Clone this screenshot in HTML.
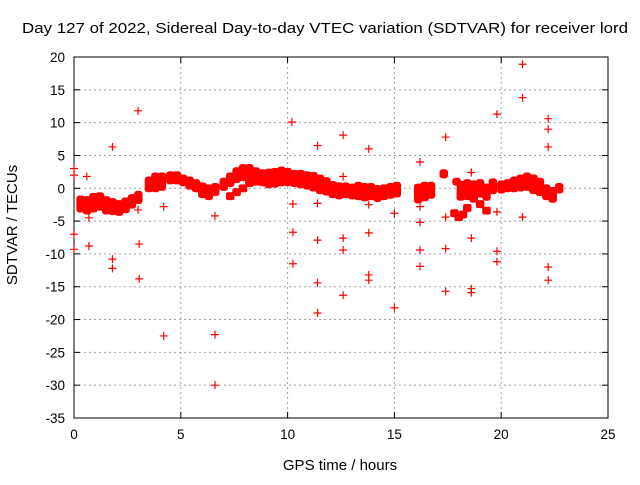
<!DOCTYPE html>
<html><head><meta charset="utf-8"><style>
body{margin:0;background:#fff}
svg text{font-family:"Liberation Sans",sans-serif;fill:#000}
</style></head><body>
<svg id="c" width="640" height="480"></svg>
<script>
const bandT=[0.3,0.6,0.9,1.2,1.5,1.8,2.1,2.4,2.7,3.0,3.5,3.8,4.1,4.5,4.8,5.1,5.4,5.7,6.0,6.3,6.6,7.0,7.3,7.6,7.9,8.2,8.5,8.8,9.1,9.4,9.7,10.0,10.3,10.6,10.9,11.2,11.5,11.8,12.1,12.4,12.7,13.0,13.3,13.6,13.9,14.2,14.5,14.8,15.1,16.1,16.4,16.7,17.3,17.9,18.1,18.4,18.7,19.0,19.3,19.6,20.0,20.3,20.6,20.9,21.2,21.5,21.8,22.1,22.4,22.7];
const bandV=[-2.4,-2.6,-2.2,-2.0,-2.6,-2.8,-3.0,-2.6,-2.0,-1.4,0.6,0.9,1.0,1.6,1.6,1.2,0.8,0.4,-0.3,-0.6,-0.2,0.6,1.3,2.0,2.4,2.2,1.8,1.6,1.5,1.6,1.8,1.7,1.5,1.4,1.2,1.0,0.6,0.3,-0.2,-0.4,-0.3,-0.5,-0.4,-0.6,-0.5,-0.8,-0.6,-0.4,-0.2,-0.8,-0.5,-0.3,2.2,1.0,-0.4,-0.2,-0.5,0.0,-0.6,0.3,0.2,0.4,0.6,0.8,1.0,0.6,0.2,-0.6,-1.0,0.0];
const bandH=[1.3,1.4,1.5,1.4,1.4,1.3,1.2,1.2,1.1,1.0,1.2,1.5,1.4,1.0,1.0,0.9,1.0,1.0,1.2,1.2,1.0,1.0,1.1,1.2,1.3,1.5,1.4,1.3,1.5,1.5,1.5,1.4,1.3,1.4,1.4,1.5,1.5,1.4,1.3,1.3,1.2,1.2,1.4,1.4,1.3,1.3,1.2,1.2,1.2,1.5,1.5,1.3,0.7,0.6,1.5,1.6,1.7,1.4,1.3,1.2,1.0,1.0,1.2,1.3,1.4,1.5,1.4,1.2,1.2,0.8];
const strandT=[7.3,7.6,7.9,8.2,17.8,18.0,18.2,18.4,18.7,19.0,19.3];
const strandV=[-1.2,-0.6,0.0,0.8,-3.8,-4.4,-4.0,-3.0,-1.5,-2.4,-3.4];
const outT=[0,0,0,0,0.6,0.7,0.7,1.8,1.8,1.8,3,3,3.05,3.05,4.2,4.2,6.6,6.6,6.6,10.2,10.25,10.25,10.25,11.4,11.4,11.4,11.4,11.4,12.6,12.6,12.6,12.6,12.6,13.8,13.8,13.8,13.8,13.8,15,15,16.2,16.2,16.2,16.2,16.2,17.4,17.4,17.4,17.4,18.6,18.6,18.6,18.6,19.8,19.8,19.8,21,21,21,22.2,22.2,22.2,22.2,22.2,19.8];
const outV=[3,2,-7,-9.3,1.8,-4.5,-8.8,6.3,-10.8,-12.2,11.8,-3.3,-8.5,-13.8,-2.8,-22.5,-4.2,-22.3,-30,10.1,-2.4,-6.7,-11.5,6.5,-2.3,-7.9,-14.4,-19,8.1,1.8,-7.6,-9.4,-16.3,6,-2.5,-6.8,-13.2,-14,-3.8,-18.2,4,-2.8,-5.2,-9.4,-11.9,7.8,-4.4,-9.2,-15.7,2.4,-7.6,-15.3,-15.9,11.3,-9.6,-11.2,18.9,13.8,-4.4,10.6,9,6.3,-12,-14,-3.6];
const xTicks=[0,5,10,15,20,25];
const yTicks=[20,15,10,5,0,-5,-10,-15,-20,-25,-30,-35];
const X0=74,X1=608,Y0=57,Y1=418;
const sx=t=>X0+(t-0)/25*(X1-X0), sy=v=>Y0+(20-v)/55*(Y1-Y0);
const svg=document.getElementById('c'),NS='http://www.w3.org/2000/svg';
function mk(tag,a,p){const e=document.createElementNS(NS,tag);for(const k in a)e.setAttribute(k,a[k]);(p||svg).appendChild(e);return e;}
let g=mk('g',{});


xTicks.forEach(t=>{const x=sx(t);
 if(t>0&&t<25)mk('line',{x1:x,y1:Y0,x2:x,y2:Y1,stroke:'#a0a0a0','stroke-dasharray':'2,3'},g);
 mk('line',{x1:x,y1:Y1,x2:x,y2:Y1-6,stroke:'#000'});mk('line',{x1:x,y1:Y0,x2:x,y2:Y0+6,stroke:'#000'});
 const tx=mk('text',{x:x,y:Y1+21,'text-anchor':'middle','font-size':13.5});tx.textContent=t;
 
 });
yTicks.forEach(v=>{const y=sy(v);
 if(v<20&&v>-35)mk('line',{x1:X0,y1:y,x2:X1,y2:y,stroke:'#a0a0a0','stroke-dasharray':'2,3'},g);
 mk('line',{x1:X0,y1:y,x2:X0+6,y2:y,stroke:'#000'});mk('line',{x1:X1,y1:y,x2:X1-6,y2:y,stroke:'#000'});
 const tx=mk('text',{x:X0-9,y:y+5,'text-anchor':'end','font-size':13.5});tx.textContent=v;
 
 });
const fr=mk('rect',{x:X0,y:Y0,width:X1-X0,height:Y1-Y0,fill:'none',stroke:'#000'});


const d=mk('g',{fill:'#f00'});


bandT.forEach((t,i)=>{const y1=sy(bandV[i]+bandH[i]),y2=sy(bandV[i]-bandH[i]);
 const r=mk('rect',{x:sx(t)-4,y:y1,width:8.5,height:y2-y1,rx:3},d);
 
 });
strandT.forEach((t,i)=>{const r=mk('rect',{x:sx(t)-4,y:sy(strandV[i]+0.6),width:8.5,height:sy(0)-sy(1.2),rx:2},d);
 
 });
outT.forEach((t,i)=>{const x=sx(t),y=sy(outV[i]);
 const p=mk('path',{d:`M${x-4},${y}H${x+4}M${x},${y-4}V${y+4}`,stroke:'#f00','stroke-width':1.2},d);
 
 });
function txt(s,a,n){const t=mk('text',a);t.textContent=s;}
txt('Day 127 of 2022, Sidereal Day-to-day VTEC variation (SDTVAR) for receiver lord',{x:325,y:33,'text-anchor':'middle','font-size':15,textLength:606,lengthAdjust:'spacingAndGlyphs'},'chart-title');
txt('GPS time / hours',{x:340,y:470,'text-anchor':'middle','font-size':15},'x-axis-title');
txt('SDTVAR / TECUs',{x:17,y:225,'text-anchor':'middle','font-size':15,transform:'rotate(-90 17 225)'},'y-axis-title');
</script>
</body></html>
